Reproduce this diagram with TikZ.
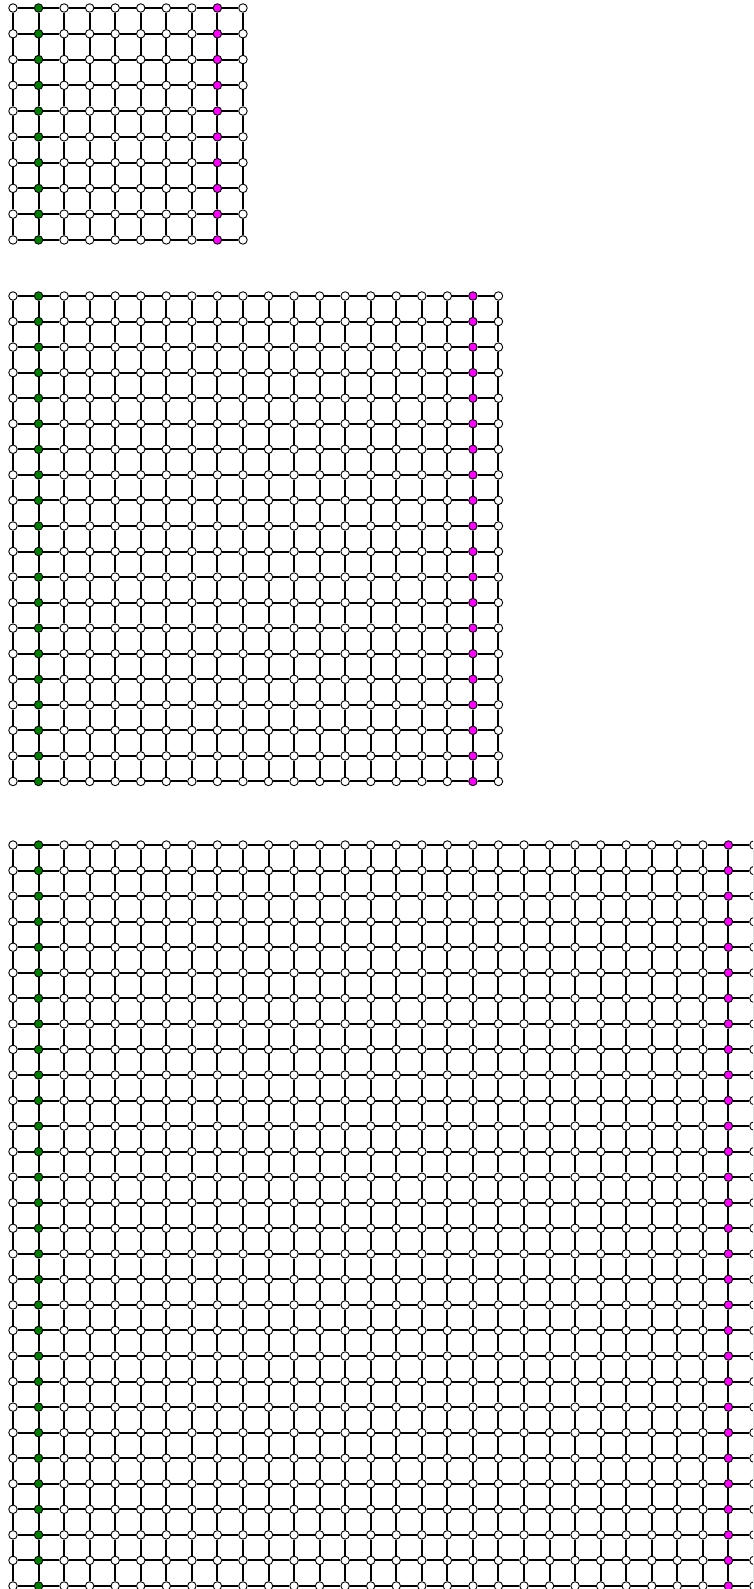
\documentclass[tikz,border=0pt]{standalone}
\definecolor{vgreen}{RGB}{0,128,0}
\definecolor{vmag}{RGB}{255,0,255}
\tikzset{
  vert/.style={circle,draw=black,fill=white,line width=0.9pt,minimum size=8.5pt,inner sep=0pt},
  gv/.style={vert,fill=vgreen},
  mv/.style={vert,fill=vmag},
  gedge/.style={line width=2pt,black}
}
\newcommand\mkgrid[4]{%
  \pgfmathtruncatemacro\gmax{#2-1}%
  \pgfmathtruncatemacro\gmag{#2-2}%
  \foreach \r in {0,...,\gmax}{%
    \foreach \c in {0,...,\gmax}{%
      \ifnum\c=1 \def\st{gv}\else\ifnum\c=\gmag \def\st{mv}\else\def\st{vert}\fi\fi
      \node[\st] (#1-\r-\c) at ({13+25.55*\c},{#3+#4*\r}) {};
    }%
  }%
  \foreach \r in {0,...,\gmax}{%
    \foreach \c in {1,...,\gmax}{%
      \pgfmathtruncatemacro\cp{\c-1}%
      \draw[gedge] (#1-\r-\cp) -- (#1-\r-\c);
      \draw[gedge] (#1-\cp-\r) -- (#1-\c-\r);
    }%
  }%
}
\begin{document}
\begin{tikzpicture}[x=1pt,y=-1pt]
\useasboundingbox (0,0) rectangle (753,1589);
\clip (0,0) rectangle (753,1589);
\mkgrid{ga}{10}{8}{25.77}
\mkgrid{gb}{20}{296}{25.55}
\mkgrid{gc}{30}{845}{25.55}
\end{tikzpicture}
\end{document}
